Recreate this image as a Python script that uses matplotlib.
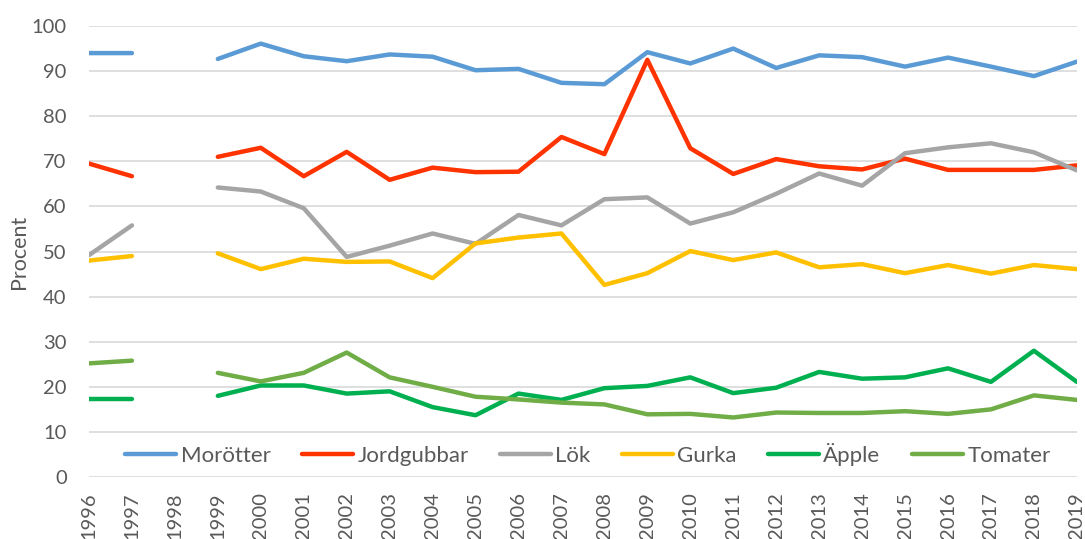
import numpy as np
import matplotlib
matplotlib.use("Agg")
from matplotlib import pyplot as plt

plt.rcParams['font.family'] = ['Lato', 'DejaVu Sans']

years = list(range(1996, 2020))
nan = np.nan

# values per year 1996..2019, 1998 has no data
morotter = [94.0, 94.0, nan, 92.7, 96.1, 93.3, 92.2, 93.7, 93.2, 90.2, 90.5, 87.4,
            87.1, 94.2, 91.7, 95.0, 90.7, 93.5, 93.1, 91.0, 93.0, 91.0, 88.9, 92.1]
jordgubbar = [69.5, 66.7, nan, 71.0, 73.0, 66.7, 72.1, 65.9, 68.6, 67.6, 67.7, 75.4,
              71.6, 92.5, 72.9, 67.2, 70.5, 68.9, 68.2, 70.6, 68.1, 68.1, 68.1, 69.1]
lok = [49.2, 55.8, nan, 64.2, 63.3, 59.6, 48.8, 51.3, 54.0, 51.7, 58.1, 55.8,
       61.6, 62.0, 56.2, 58.7, 62.8, 67.3, 64.6, 71.8, 73.1, 74.0, 72.0, 68.0]
gurka = [48.0, 49.0, nan, 49.6, 46.1, 48.4, 47.7, 47.8, 44.1, 51.8, 53.1, 54.0,
         42.6, 45.2, 50.1, 48.1, 49.8, 46.5, 47.2, 45.2, 47.0, 45.1, 47.0, 46.1]
apple = [17.3, 17.3, nan, 18.0, 20.3, 20.3, 18.5, 19.0, 15.5, 13.7, 18.5, 17.1,
         19.7, 20.2, 22.1, 18.6, 19.8, 23.3, 21.8, 22.1, 24.1, 21.1, 28.0, 21.1]
tomater = [25.2, 25.8, nan, 23.1, 21.2, 23.1, 27.6, 22.1, 20.0, 17.8, 17.2, 16.5,
           16.1, 13.9, 14.0, 13.2, 14.3, 14.2, 14.2, 14.6, 14.0, 15.0, 18.1, 17.1]

series = [
    ("Morötter", morotter, "#5B9BD5"),
    ("Jordgubbar", jordgubbar, "#FF3300"),
    ("Lök", lok, "#A5A5A5"),
    ("Gurka", gurka, "#FFC000"),
    ("Äpple", apple, "#00B050"),
    ("Tomater", tomater, "#70AD47"),
]

text_col = "#595959"

fig = plt.figure(figsize=(10.85, 5.39), dpi=100)
ax = fig.add_axes([0.082, 0.115, 0.9105, 0.8367])

for name, vals, col in series:
    ax.plot(years, vals, color=col, lw=3.2, label=name, solid_capstyle='round')

ax.set_xlim(1996, 2019)
ax.set_ylim(0, 100)
ax.set_yticks(range(0, 101, 10))
ax.set_xticks(years)
ax.set_xticklabels([str(y) for y in years], rotation=90)
ax.tick_params(axis='both', length=0, labelsize=14.5, colors=text_col)
ax.tick_params(axis='y', pad=16)
ax.tick_params(axis='x', pad=11)
ax.grid(axis='y', color="#D9D9D9", lw=1.2)
ax.set_axisbelow(True)
for s in ax.spines.values():
    s.set_visible(False)

ax.set_ylabel("Procent", fontsize=15.5, color=text_col, labelpad=2)

ax.legend(loc='center', bbox_to_anchor=(0.505, 0.05), ncol=6, frameon=False,
          fontsize=16, labelcolor=text_col, handlelength=2.3, handletextpad=0.2,
          columnspacing=1.4)

fig.savefig("out.png", dpi=100)
